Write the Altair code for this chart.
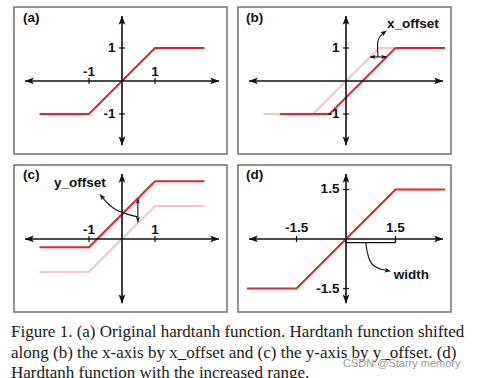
import altair as alt
import pandas as pd

# ---------------- data ----------------
# hardtanh break points (x, y) per panel
A_X = [-2.5, -1.0, 1.0, 2.5]
A_Y = [-1.0, -1.0, 1.0, 1.0]
B_ORIG_X = [-2.5, -1.0, 1.0, 2.5]
B_ORIG_Y = [-1.0, -1.0, 1.0, 1.0]
B_SHIFT_X = [-2.0, -0.5, 1.5, 3.0]
B_SHIFT_Y = [-1.0, -1.0, 1.0, 1.0]
C_ORIG_X = [-2.5, -1.0, 1.0, 2.5]
C_ORIG_Y = [-1.0, -1.0, 1.0, 1.0]
C_SHIFT_X = [-2.5, -1.0, 1.0, 2.5]
C_SHIFT_Y = [-0.25, -0.25, 1.75, 1.75]
D_X = [-3.0, -1.5, 1.5, 3.0]
D_Y = [-1.5, -1.5, 1.5, 1.5]

# axis extents (data units)
AXIS_X = [-2.94, 2.94]
AXIS_Y = [-1.95, 1.97]

# ticks and tick labels per panel
A_XT, A_XL = [-1, 1], ["-1", "1"]
A_YT, A_YL = [-1, 1], ["-1", "1"]
B_XT, B_XL = [], []
B_YT, B_YL = [-1, 1], ["-1", "1"]
C_XT, C_XL = [-1, 1], ["-1", "1"]
C_YT, C_YL = [], []
D_XT, D_XL = [-1.5, 1.5], ["-1.5", "1.5"]
D_YT, D_YL = [-1.5, 1.5], ["-1.5", "1.5"]

PANEL_LABELS = ["(a)", "(b)", "(c)", "(d)"]

# annotations
B_DBL_X, B_DBL_Y = [0.73, 1.23], 0.73
B_CURVE_X, B_CURVE_Y = [0.97, 0.93, 1.16], [0.73, 1.30, 1.47]
B_TEXT, B_TEXT_X, B_TEXT_Y = "x_offset", 1.24, 1.73
C_DBL_X, C_DBL_Y = 0.48, [0.50, 1.23]
C_CURVE_X, C_CURVE_Y = [0.47, -0.25, -0.62], [0.67, 0.85, 1.29]
C_TEXT, C_TEXT_X, C_TEXT_Y = "y_offset", -2.06, 1.70
D_BR_X, D_BR_Y = [0.0, 1.5], -0.11
D_CURVE_X, D_CURVE_Y = [0.60, 0.70, 1.27], [-0.11, -0.85, -0.96]
D_TEXT, D_TEXT_X, D_TEXT_Y = "width", 1.45, -1.10

CAPTION = [
    "Figure 1. (a) Original hardtanh function. Hardtanh function shifted",
    "along (b) the x-axis by x_offset and (c) the y-axis by y_offset. (d)",
    "Hardtanh function with the increased range.",
]
CAPTION_Y = [23, 43.5, 63.5]
WATERMARK = "CSDN @Starry memory"

# ---------------- styling ----------------
RED = "#e8232a"
PINK = "#f7c5c5"
INK = "#111111"
BOX = "#707070"
SANS = "Liberation Sans"
SERIF = "Liberation Serif"
W, H = 213, 147
X_DOM = [-3.273, 3.182]
Y_DOM = [-2.212, 2.242]
ARROW = "M0,-1L0.75,1L0,0.55L-0.75,1Z"


def X(f):
    return alt.X(f, type="quantitative", scale=alt.Scale(domain=X_DOM, nice=False, zero=False), axis=None)


def Y(f):
    return alt.Y(f, type="quantitative", scale=alt.Scale(domain=Y_DOM, nice=False, zero=False), axis=None)


def curve(xs, ys, color, width=2.0):
    df = pd.DataFrame({"x": xs, "y": ys, "i": list(range(len(xs)))})
    return alt.Chart(df).mark_line(color=color, strokeWidth=width).encode(
        x=X("x"), y=Y("y"), order=alt.Order("i:Q"))


def rules(x, x2, y, y2, width=1.6):
    df = pd.DataFrame({"x": x, "x2": x2, "y": y, "y2": y2})
    return alt.Chart(df).mark_rule(color=INK, strokeWidth=width).encode(
        x=X("x"), x2="x2", y=Y("y"), y2="y2")


def heads(xs, ys, angles, size=81):
    df = pd.DataFrame({"x": xs, "y": ys, "a": angles})
    return alt.Chart(df).mark_point(shape=ARROW, filled=True, size=size, color=INK,
                                    opacity=1, strokeWidth=0).encode(
        x=X("x"), y=Y("y"), angle=alt.Angle("a:Q", scale=None))


def texts(xs, ys, labels, align, baseline, size=13.5):
    df = pd.DataFrame({"x": xs, "y": ys, "t": labels})
    return alt.Chart(df).mark_text(align=align, baseline=baseline, font=SANS, fontWeight="bold",
                                   fontSize=size, color=INK).encode(
        x=X("x"), y=Y("y"), text="t:N")


def smooth(xs, ys, head_angle):
    df = pd.DataFrame({"x": xs, "y": ys, "i": list(range(len(xs)))})
    line = alt.Chart(df).mark_line(color=INK, strokeWidth=1.1, interpolate="basis").encode(
        x=X("x"), y=Y("y"), order=alt.Order("i:Q"))
    return [line, heads([xs[-1]], [ys[-1]], [head_angle], size=42)]


def axes_layers(xt, xl, yt, yl, xlab_y=0.14):
    L = []
    L.append(rules([AXIS_X[0], 0], [AXIS_X[1], 0], [0, AXIS_Y[0]], [0, AXIS_Y[1]]))
    L.append(heads([AXIS_X[1] - 0.13, AXIS_X[0] + 0.13, 0, 0],
                   [0, 0, AXIS_Y[1] - 0.13, AXIS_Y[0] + 0.13], [90, 270, 0, 180]))
    if xt:
        L.append(rules(xt, xt, [-0.09] * len(xt), [0.09] * len(xt), width=1.2))
        L.append(texts(xt, [xlab_y] * len(xt), xl, "center", "alphabetic"))
    if yt:
        L.append(rules([-0.09] * len(yt), [0.09] * len(yt), yt, yt, width=1.2))
        L.append(texts([-0.2] * len(yt), yt, yl, "right", "middle"))
    return L


def panel(layers):
    return alt.layer(*layers).properties(
        width=W, height=H, view=alt.ViewBackground(stroke=BOX, strokeWidth=1.5))


pa = panel([curve(A_X, A_Y, RED)] + axes_layers(A_XT, A_XL, A_YT, A_YL)
           + [texts([-3.0], [1.92], [PANEL_LABELS[0]], "left", "middle")])

pb = panel([curve(B_ORIG_X, B_ORIG_Y, PINK), curve(B_SHIFT_X, B_SHIFT_Y, RED)]
           + axes_layers(B_XT, B_XL, B_YT, B_YL)
           + [rules([B_DBL_X[0]], [B_DBL_X[1]], [B_DBL_Y], [B_DBL_Y], width=1.1),
              heads([B_DBL_X[0] + 0.08, B_DBL_X[1] - 0.08], [B_DBL_Y, B_DBL_Y], [270, 90], size=30)]
           + smooth(B_CURVE_X, B_CURVE_Y, 55)
           + [texts([B_TEXT_X], [B_TEXT_Y], [B_TEXT], "left", "middle"),
              texts([-3.03], [1.92], [PANEL_LABELS[1]], "left", "middle")])

pc = panel([curve(C_ORIG_X, C_ORIG_Y, PINK), curve(C_SHIFT_X, C_SHIFT_Y, RED)]
           + axes_layers(C_XT, C_XL, C_YT, C_YL)
           + [rules([C_DBL_X], [C_DBL_X], [C_DBL_Y[0]], [C_DBL_Y[1]], width=1.1),
              heads([C_DBL_X, C_DBL_X], [C_DBL_Y[0] + 0.08, C_DBL_Y[1] - 0.08], [180, 0], size=30)]
           + smooth(C_CURVE_X, C_CURVE_Y, 318)
           + [texts([C_TEXT_X], [C_TEXT_Y], [C_TEXT], "left", "middle"),
              texts([-3.0], [1.94], [PANEL_LABELS[2]], "left", "middle")])

pd_ = panel([curve(D_X, D_Y, RED)] + axes_layers(D_XT, D_XL, D_YT, D_YL, xlab_y=0.2)
            + [rules([D_BR_X[0]], [D_BR_X[1]], [D_BR_Y], [D_BR_Y], width=1.2),
               rules(D_BR_X, D_BR_X, [D_BR_Y, D_BR_Y], [0, 0], width=1.2)]
            + smooth(D_CURVE_X, D_CURVE_Y, 100)
            + [texts([D_TEXT_X], [D_TEXT_Y], [D_TEXT], "left", "middle"),
               texts([-3.03], [1.94], [PANEL_LABELS[3]], "left", "middle")])

cap_df = pd.DataFrame({"x": [-3] * len(CAPTION), "y": CAPTION_Y, "t": CAPTION})
wm_df = pd.DataFrame({"x": [329], "y": [53], "t": [WATERMARK]})
cx = alt.X("x:Q", scale=alt.Scale(domain=[0, 435], nice=False, zero=False), axis=None)
cy = alt.Y("y:Q", scale=alt.Scale(domain=[0, 67], reverse=True, nice=False, zero=False), axis=None)
cap = alt.layer(
    alt.Chart(cap_df).mark_text(align="left", baseline="alphabetic", font=SERIF, fontSize=17,
                                color="#1a1a1a").encode(x=cx, y=cy, text="t:N"),
    alt.Chart(wm_df).mark_text(align="left", baseline="alphabetic", font=SANS, fontSize=11,
                               color="#9a9a9a").encode(x=cx, y=cy, text="t:N"),
).properties(width=435, height=67)

grid = alt.vconcat(alt.hconcat(pa, pb, spacing=9), alt.hconcat(pc, pd_, spacing=9), spacing=9)
chart = alt.vconcat(grid, cap, spacing=0).properties(
    padding={"left": 10, "top": 6, "right": 0, "bottom": 0}, background="white"
).configure_view(stroke="transparent")

chart.save("out.html", embed_options={"renderer": "svg", "actions": False})
